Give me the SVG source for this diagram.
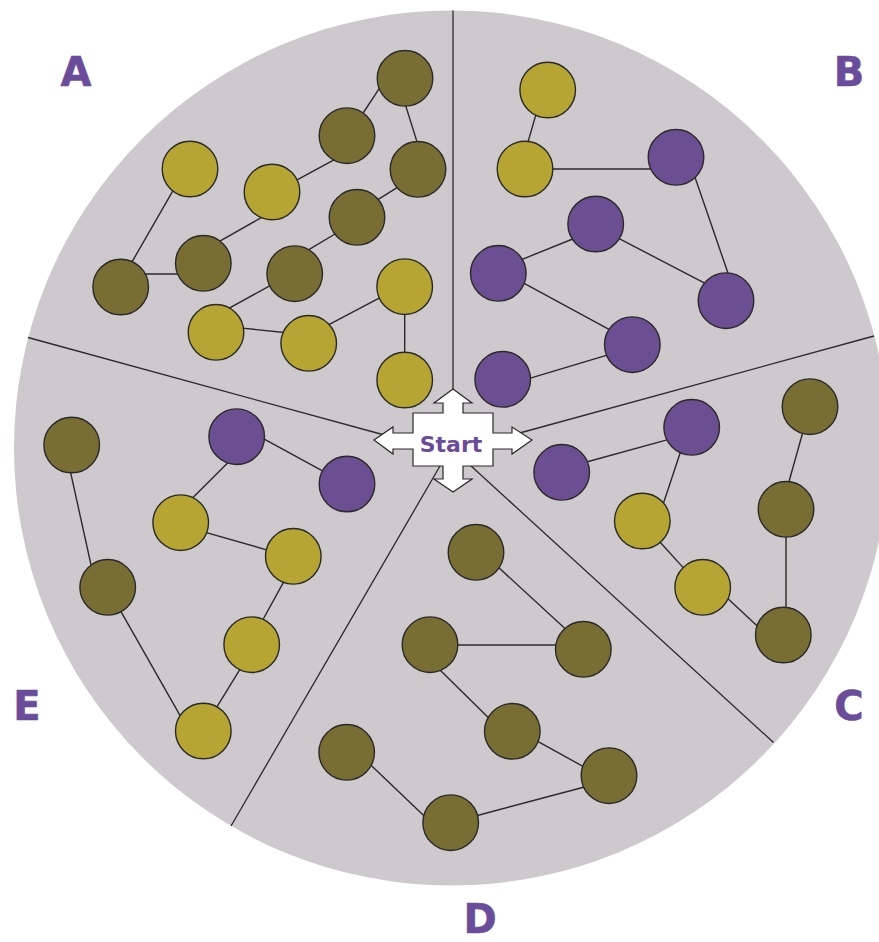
<svg xmlns="http://www.w3.org/2000/svg" width="879" height="942" viewBox="0 0 879 942">
  <style>
    .disc { fill: #cdc9cd; }
    .div { stroke: #2a2a2a; stroke-width: 1.3; fill: none; }
    .edge { stroke: #2a2a2a; stroke-width: 1.4; fill: none; }
    .n { stroke: #2a2a2a; stroke-width: 1.4; }
    .dk { fill: #786e34; }
    .yl { fill: #b6a532; }
    .pu { fill: #6c4f92; }
    .lbl { font-family: "DejaVu Sans", Verdana, sans-serif; font-weight: bold; font-size: 40px; fill: #6b4c9a; stroke: #6b4c9a; stroke-width: 0.6; text-anchor: middle; }
    .start { font-family: "DejaVu Sans", Verdana, sans-serif; font-weight: bold; font-size: 22px; fill: #6b4c9a; text-anchor: middle; }
  </style>

  <rect width="879" height="942" fill="#ffffff"/>
  <circle class="disc" cx="451.5" cy="448" r="437.5"/>

  <!-- sector dividers -->
  <g id="dividers">
    <line class="div" x1="453" y1="10.5" x2="453" y2="395"/>
    <line class="div" x1="28" y1="337.5" x2="388" y2="436"/>
    <line class="div" x1="874" y1="336" x2="516" y2="434"/>
    <line class="div" x1="773.5" y1="742.5" x2="470" y2="465"/>
    <line class="div" x1="231" y1="826" x2="440" y2="466"/>
  </g>

  <!-- connectors -->
  <g id="connectors">
    <!-- A -->
    <line class="edge" x1="380.5" y1="86.7" x2="361.8" y2="115"/>
    <line class="edge" x1="404.8" y1="102.9" x2="417.9" y2="144.8"/>
    <line class="edge" x1="335.8" y1="158.8" x2="294.8" y2="181.2"/>
    <line class="edge" x1="263.5" y1="216.3" x2="217.2" y2="242.7"/>
    <line class="edge" x1="180" y1="274" x2="144" y2="274"/>
    <line class="edge" x1="130.7" y1="264.2" x2="174" y2="188.8"/>
    <line class="edge" x1="399.4" y1="186.2" x2="375.9" y2="200.8"/>
    <line class="edge" x1="336.7" y1="233" x2="305.9" y2="251.3"/>
    <line class="edge" x1="272.8" y1="284.1" x2="226.5" y2="309.6"/>
    <line class="edge" x1="240" y1="327.9" x2="286.7" y2="332.7"/>
    <line class="edge" x1="326.5" y1="325.9" x2="381.5" y2="296.8"/>
    <line class="edge" x1="404.7" y1="311" x2="404.7" y2="356"/>
    <!-- B -->
    <line class="edge" x1="536.4" y1="112.9" x2="527.2" y2="144.8"/>
    <line class="edge" x1="550" y1="169" x2="654" y2="169"/>
    <line class="edge" x1="693.7" y1="173.5" x2="729.6" y2="277.8"/>
    <line class="edge" x1="615.8" y1="236.9" x2="708.5" y2="285.1"/>
    <line class="edge" x1="576.4" y1="237.5" x2="518.6" y2="260.8"/>
    <line class="edge" x1="520.5" y1="281.4" x2="612.2" y2="331.2"/>
    <line class="edge" x1="610.5" y1="354.2" x2="526.2" y2="379.4"/>
    <!-- C -->
    <line class="edge" x1="583.8" y1="462.7" x2="670.6" y2="438.9"/>
    <line class="edge" x1="681.3" y1="449.5" x2="662.7" y2="505.5"/>
    <line class="edge" x1="659" y1="541" x2="685" y2="569.6"/>
    <line class="edge" x1="726.4" y1="597.3" x2="760.2" y2="628.7"/>
    <line class="edge" x1="786" y1="532" x2="786" y2="612"/>
    <line class="edge" x1="787.6" y1="486.5" x2="803.8" y2="428.8"/>
    <!-- D -->
    <line class="edge" x1="495.4" y1="564.6" x2="569.6" y2="632.7"/>
    <line class="edge" x1="452" y1="645" x2="562" y2="645"/>
    <line class="edge" x1="437.2" y1="667.2" x2="492.8" y2="722.1"/>
    <line class="edge" x1="533.2" y1="738.8" x2="588.8" y2="769.6"/>
    <line class="edge" x1="589.2" y1="785.7" x2="471.8" y2="817"/>
    <line class="edge" x1="428.9" y1="820.5" x2="367.1" y2="761.5"/>
    <!-- E -->
    <line class="edge" x1="259.2" y1="436.4" x2="327.5" y2="473.6"/>
    <line class="edge" x1="231.1" y1="459.5" x2="189.5" y2="501.1"/>
    <line class="edge" x1="202.9" y1="531.6" x2="271.2" y2="551.1"/>
    <line class="edge" x1="285.2" y1="579.2" x2="260.8" y2="623.5"/>
    <line class="edge" x1="242.1" y1="665.9" x2="214.6" y2="710.7"/>
    <line class="edge" x1="182.7" y1="720.2" x2="119" y2="608.2"/>
    <line class="edge" x1="91.9" y1="568.9" x2="69.8" y2="468.8"/>
  </g>

  <!-- sector A -->
  <g id="sector-a">
    <circle id="a1" class="n dk" cx="405" cy="78.3" r="27.8"/>
    <circle id="a2" class="n dk" cx="347" cy="135.7" r="27.8"/>
    <circle id="a3" class="n dk" cx="418" cy="169.3" r="27.8"/>
    <circle id="a4" class="n yl" cx="190" cy="169" r="27.8"/>
    <circle id="a5" class="n yl" cx="272" cy="192" r="27.8"/>
    <circle id="a6" class="n dk" cx="357" cy="217.3" r="27.8"/>
    <circle id="a7" class="n dk" cx="120.7" cy="287" r="27.8"/>
    <circle id="a8" class="n dk" cx="203.3" cy="263.3" r="27.8"/>
    <circle id="a9" class="n dk" cx="294.7" cy="273.7" r="27.8"/>
    <circle id="a10" class="n yl" cx="404.7" cy="286.7" r="27.8"/>
    <circle id="a11" class="n yl" cx="216" cy="332.3" r="27.8"/>
    <circle id="a12" class="n yl" cx="308.7" cy="343.3" r="27.8"/>
    <circle id="a13" class="n yl" cx="404.7" cy="380" r="27.8"/>
  </g>

  <!-- sector B -->
  <g id="sector-b">
    <circle id="b1" class="n yl" cx="547.7" cy="90" r="27.8"/>
    <circle id="b2" class="n yl" cx="525" cy="169" r="27.8"/>
    <circle id="b3" class="n pu" cx="676" cy="157.3" r="27.8"/>
    <circle id="b4" class="n pu" cx="595.7" cy="224" r="27.8"/>
    <circle id="b5" class="n pu" cx="498.3" cy="273.3" r="27.8"/>
    <circle id="b6" class="n pu" cx="726" cy="300.7" r="27.8"/>
    <circle id="b7" class="n pu" cx="632.3" cy="344.7" r="27.8"/>
    <circle id="b8" class="n pu" cx="502.7" cy="379.3" r="27.8"/>
  </g>

  <!-- sector C -->
  <g id="sector-c">
    <circle id="c1" class="n dk" cx="810" cy="406.7" r="27.8"/>
    <circle id="c2" class="n pu" cx="691.7" cy="427.3" r="27.8"/>
    <circle id="c3" class="n pu" cx="561.7" cy="472.3" r="27.8"/>
    <circle id="c4" class="n dk" cx="786" cy="509.3" r="27.8"/>
    <circle id="c5" class="n yl" cx="642.3" cy="521" r="27.8"/>
    <circle id="c6" class="n yl" cx="702.7" cy="587.3" r="27.8"/>
    <circle id="c7" class="n dk" cx="783.3" cy="635" r="27.8"/>
  </g>

  <!-- sector D -->
  <g id="sector-d">
    <circle id="d1" class="n dk" cx="476" cy="552.3" r="27.8"/>
    <circle id="d2" class="n dk" cx="583.3" cy="649.3" r="27.8"/>
    <circle id="d3" class="n dk" cx="430" cy="644.7" r="27.8"/>
    <circle id="d4" class="n dk" cx="512.3" cy="731.3" r="27.8"/>
    <circle id="d5" class="n dk" cx="609" cy="775.7" r="27.8"/>
    <circle id="d6" class="n dk" cx="346.7" cy="752.3" r="27.8"/>
    <circle id="d7" class="n dk" cx="450.7" cy="822.7" r="27.8"/>
  </g>

  <!-- sector E -->
  <g id="sector-e">
    <circle id="e1" class="n dk" cx="71.7" cy="445" r="27.8"/>
    <circle id="e2" class="n pu" cx="236.7" cy="436.7" r="27.8"/>
    <circle id="e3" class="n pu" cx="347" cy="484" r="27.8"/>
    <circle id="e4" class="n yl" cx="180.7" cy="522.7" r="27.8"/>
    <circle id="e5" class="n yl" cx="293.3" cy="556.3" r="27.8"/>
    <circle id="e6" class="n dk" cx="107.7" cy="587.3" r="27.8"/>
    <circle id="e7" class="n yl" cx="251.7" cy="644.7" r="27.8"/>
    <circle id="e8" class="n yl" cx="203.3" cy="731" r="27.8"/>
  </g>

  <!-- four-way start arrow -->
  <g id="start">
    <polygon fill="#ffffff" stroke="#2a2a2a" stroke-width="1.2" stroke-linejoin="miter"
      points="453,389 472,403 463,403 463,413 493,413 493,433 512,433 512,427 532,440 512,454 512,449 493,449 493,466 463,466 463,479 472,479 453,492 434,479 443,479 443,466 413,466 413,449 393,449 393,454 374,440 393,427 393,433 413,433 413,413 443,413 443,403 434,403"/>
    <text class="start" x="451" y="452">Start</text>
  </g>

  <!-- sector labels -->
  <g id="labels">
    <text class="lbl" x="76" y="86">A</text>
    <text class="lbl" x="849" y="86">B</text>
    <text class="lbl" x="849" y="720">C</text>
    <text class="lbl" x="480" y="933">D</text>
    <text class="lbl" x="27" y="720">E</text>
  </g>
</svg>
